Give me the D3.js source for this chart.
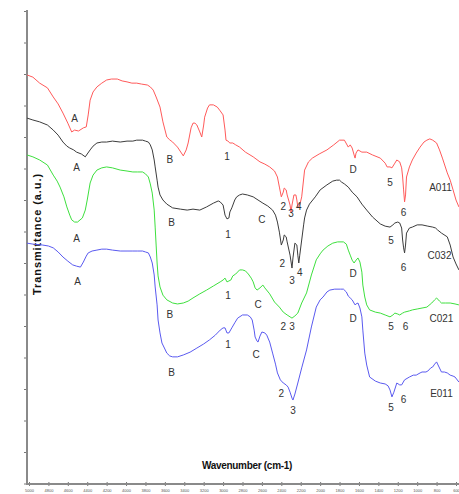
<!DOCTYPE html>
<html>
<head>
<meta charset="utf-8">
<script src="https://cdn.jsdelivr.net/npm/d3@7/dist/d3.min.js"></script>
<style>
  body { margin: 0; background: #fff; }
  svg { display: block; font-family: "Liberation Sans", Arial, sans-serif; }
  .tag { font-size: 10px; fill: #333; text-anchor: middle; dominant-baseline: central; }
  .spectrum { fill: none; stroke-width: 1; stroke-linejoin: round; }
</style>
</head>
<body>
<svg id="plot" width="459" height="494"></svg>
<script>
// wavenumber (cm-1), transmittance (a.u.)
const a011 = [
  [5020,129.7],[4960,129.0],[4890,127.1],[4810,125.6],[4750,122.7],[4700,120.5],[4650,117.6],[4600,114.4],
  [4560,111.6],[4530,112.2],[4490,111.9],[4440,112.9],[4410,113.2],[4390,117.0],[4370,121.7],[4340,124.3],
  [4300,125.9],[4250,127.1],[4200,128.1],[4150,128.4],[4090,128.4],[4040,127.8],[3990,127.5],[3940,127.1],
  [3890,127.1],[3840,126.8],[3780,126.5],[3750,125.9],[3720,124.9],[3690,122.7],[3650,119.5],[3620,114.8],
  [3580,110.0],[3550,109.1],[3520,108.4],[3470,106.8],[3410,104.0],[3380,105.9],[3360,108.1],[3330,112.9],
  [3310,114.4],[3290,114.4],[3270,113.8],[3240,111.6],[3220,110.0],[3200,113.8],[3190,116.3],[3160,119.2],
  [3140,120.2],[3100,120.2],[3060,119.5],[3030,118.3],[3000,117.0],[2980,112.2],[2970,109.0],[2950,108.7],
  [2930,108.1],[2900,108.1],[2870,107.5],[2830,106.8],[2770,105.2],[2690,103.7],[2620,102.1],[2570,101.4],
  [2520,100.5],[2470,99.2],[2440,97.3],[2420,94.1],[2400,91.0],[2380,92.5],[2370,93.8],[2350,93.2],
  [2340,91.6],[2310,88.4],[2300,86.2],[2290,88.4],[2270,91.6],[2250,91.6],[2240,90.0],[2230,87.8],
  [2210,88.4],[2190,91.0],[2160,99.5],[2120,102.1],[2080,103.3],[2010,104.6],[1930,105.9],[1860,107.5],
  [1800,109.0],[1750,109.0],[1710,106.8],[1690,107.5],[1670,106.5],[1650,104.3],[1640,103.3],[1630,104.9],
  [1610,105.9],[1570,105.2],[1520,105.2],[1460,104.3],[1380,103.3],[1330,101.7],[1310,100.5],[1280,100.5],
  [1260,100.2],[1230,101.7],[1210,102.7],[1180,102.1],[1160,100.2],[1150,97.3],[1140,93.2],[1130,89.4],
  [1120,91.6],[1110,97.3],[1080,100.5],[1050,102.7],[1010,104.9],[970,106.8],[930,108.4],[900,109.0],
  [870,109.4],[840,109.0],[800,108.1],[770,105.9],[740,103.3],[690,98.6],[660,96.3],[630,93.2],
  [600,90.0],[570,87.8]
];
const c032 = [
  [5020,116.0],[4960,115.4],[4890,114.8],[4810,113.8],[4750,112.2],[4700,110.6],[4650,108.4],[4610,107.1],
  [4580,106.5],[4540,105.9],[4510,105.2],[4460,104.6],[4420,103.7],[4400,104.6],[4370,105.9],[4340,107.1],
  [4300,108.1],[4250,108.4],[4200,108.4],[4140,108.7],[4060,108.4],[3990,108.7],[3930,108.7],[3890,109.0],
  [3830,109.0],[3800,108.7],[3770,108.4],[3750,107.5],[3730,105.9],[3710,102.7],[3700,100.5],[3680,96.3],
  [3670,94.1],[3650,91.6],[3620,90.0],[3580,88.7],[3520,87.5],[3440,87.1],[3370,86.8],[3310,87.1],
  [3240,86.8],[3170,87.8],[3100,89.0],[3050,89.7],[3030,89.4],[3000,88.4],[2980,85.2],[2960,84.0],
  [2940,84.3],[2930,86.2],[2910,87.5],[2880,90.0],[2860,91.0],[2830,91.6],[2800,91.9],[2750,91.6],
  [2690,91.0],[2640,90.0],[2590,89.0],[2540,88.1],[2490,86.8],[2460,85.2],[2440,83.0],[2420,79.8],
  [2400,75.7],[2380,77.3],[2370,78.9],[2350,78.3],[2340,76.7],[2310,72.5],[2290,68.4],[2280,71.6],
  [2260,76.3],[2240,75.7],[2230,72.5],[2220,70.0],[2210,72.5],[2190,77.3],[2170,82.1],[2160,84.3],
  [2140,86.8],[2110,88.7],[2050,91.0],[2000,93.2],[1930,94.8],[1870,96.0],[1830,96.3],[1800,96.3],
  [1780,95.7],[1750,95.1],[1710,94.1],[1670,92.5],[1620,91.0],[1570,88.7],[1520,86.8],[1460,84.6],
  [1380,82.4],[1330,81.7],[1280,81.4],[1250,82.1],[1230,82.7],[1200,83.0],[1180,82.7],[1160,81.1],
  [1150,77.3],[1140,74.8],[1130,73.2],[1120,75.7],[1110,79.5],[1080,81.1],[1050,81.4],[1000,82.1],
  [950,82.1],[890,81.7],[840,81.4],[810,81.1],[790,80.5],[750,79.5],[690,78.3],[660,75.7],
  [630,71.9],[600,69.7],[570,67.8]
];
const c021 = [
  [5020,104.3],[4960,103.7],[4890,102.7],[4810,101.1],[4750,97.9],[4710,96.0],[4680,94.1],[4640,91.0],
  [4610,87.8],[4580,85.2],[4560,83.7],[4530,83.0],[4500,83.0],[4450,84.3],[4420,86.8],[4400,90.0],
  [4370,95.4],[4340,97.9],[4300,99.5],[4250,100.2],[4200,100.5],[4140,100.2],[4060,99.5],[3990,99.2],
  [3930,98.9],[3880,98.9],[3830,98.9],[3800,98.3],[3770,97.3],[3750,95.1],[3730,92.2],[3710,86.8],
  [3700,81.4],[3690,75.7],[3680,70.0],[3670,65.9],[3650,62.4],[3620,59.8],[3580,58.3],[3520,57.3],
  [3470,57.0],[3410,57.3],[3360,57.9],[3310,58.9],[3240,60.2],[3170,61.4],[3100,62.7],[3030,64.0],
  [3000,64.6],[2980,65.2],[2960,64.0],[2940,64.3],[2920,64.6],[2900,65.9],[2870,66.5],[2830,67.8],
  [2800,67.8],[2770,67.5],[2740,66.5],[2710,65.2],[2690,64.0],[2670,62.1],[2650,61.4],[2620,62.1],
  [2590,63.0],[2570,62.1],[2520,60.2],[2470,57.6],[2420,56.0],[2380,54.4],[2340,53.5],[2310,52.9],
  [2290,52.5],[2260,53.2],[2230,54.1],[2190,57.3],[2140,60.5],[2090,66.2],[2040,71.0],[2000,72.9],
  [1970,74.1],[1920,75.4],[1870,76.3],[1820,76.7],[1760,76.7],[1730,76.0],[1710,74.1],[1690,72.5],
  [1670,70.9],[1650,70.0],[1630,70.9],[1610,71.6],[1590,70.3],[1570,67.1],[1560,63.0],[1540,59.2],
  [1520,56.7],[1490,55.1],[1430,54.4],[1380,54.1],[1330,53.5],[1280,52.9],[1250,53.5],[1230,54.1],
  [1200,53.8],[1180,53.5],[1150,54.1],[1130,54.4],[1080,54.8],[1050,55.1],[1000,55.4],[950,55.7],
  [900,56.0],[850,57.3],[820,58.3],[800,58.9],[770,57.9],[750,57.3],[710,57.3],[660,57.3],
  [610,57.0],[570,56.7]
];
const e011 = [
  [5020,76.3],[4960,76.0],[4860,75.7],[4800,75.4],[4750,74.8],[4700,73.5],[4650,71.9],[4600,70.6],
  [4550,69.4],[4510,69.0],[4470,68.7],[4440,70.3],[4410,72.2],[4390,73.2],[4350,73.8],[4300,74.1],
  [4250,74.4],[4200,74.4],[4140,74.1],[4060,73.8],[3990,73.8],[3930,73.8],[3880,73.8],[3830,73.8],
  [3800,73.5],[3770,73.2],[3750,71.9],[3730,70.0],[3710,66.2],[3700,62.4],[3680,56.7],[3670,51.9],
  [3650,47.8],[3630,44.6],[3600,42.7],[3580,41.4],[3550,40.5],[3520,40.2],[3470,40.2],[3410,40.8],
  [3340,41.7],[3270,43.0],[3200,44.3],[3140,45.6],[3080,47.1],[3030,48.7],[3000,49.4],[2980,49.4],
  [2960,47.8],[2940,47.8],[2910,49.4],[2880,51.0],[2850,52.5],[2800,53.5],[2750,53.5],[2720,52.9],
  [2700,51.9],[2680,48.7],[2670,46.5],[2650,45.2],[2640,44.9],[2620,46.8],[2600,48.1],[2570,47.8],
  [2550,47.1],[2520,44.9],[2490,41.4],[2460,37.9],[2440,35.1],[2410,32.9],[2380,31.9],[2350,31.3],
  [2330,30.6],[2310,29.0],[2290,27.1],[2280,26.5],[2260,28.4],[2230,31.9],[2190,36.7],[2140,42.4],
  [2090,49.7],[2040,56.0],[2000,58.3],[1970,59.2],[1930,60.8],[1900,61.4],[1850,61.7],[1790,61.7],
  [1760,61.7],[1730,60.8],[1710,59.5],[1690,58.9],[1670,58.3],[1640,56.7],[1630,57.0],[1610,57.3],
  [1590,55.7],[1570,52.9],[1560,48.7],[1540,41.4],[1520,37.6],[1490,33.8],[1430,32.5],[1380,31.9],
  [1330,31.6],[1300,31.0],[1280,29.7],[1260,27.5],[1240,29.0],[1210,31.9],[1180,31.3],[1160,31.3],
  [1130,32.9],[1080,33.8],[1040,34.4],[1010,34.4],[970,35.1],[950,35.4],[910,35.4],[890,35.7],
  [860,36.7],[840,37.0],[820,37.9],[800,38.6],[780,37.3],[750,35.4],[720,35.4],[690,35.1],
  [660,34.4],[630,34.1],[610,33.8],[570,32.2]
];

// band labels: text, wavenumber, transmittance
const a011Labels = [["A",4530,116.0],["B",3550,102.7],["1",2960,103.7],["2",2380,87.8],["3",2300,85.6],
  ["4",2220,87.8],["D",1660,99.8],["5",1280,95.7],["6",1140,85.9],["A011",760,94.1]];
const c032Labels = [["A",4510,100.2],["B",3530,82.7],["1",2950,78.9],["C",2600,83.7],["2",2390,70.0],
  ["3",2290,64.6],["4",2210,67.1],["5",1270,77.3],["6",1140,68.7],["C032",770,72.5]];
const c021Labels = [["A",4510,77.9],["B",3550,53.5],["1",2950,59.8],["C",2640,56.7],["2",2380,50.0],
  ["3",2290,50.0],["D",1660,66.8],["5",1270,49.7],["6",1120,50.0],["C021",750,52.5]];
const e011Labels = [["A",4500,64.0],["B",3530,35.1],["1",2950,44.0],["C",2660,40.8],["2",2400,28.7],
  ["3",2280,23.3],["D",1660,52.5],["5",1270,24.0],["6",1140,26.8],["E011",750,28.7]];

const xTicks = d3.range(5000, 599, -200);
const yTicks = d3.range(0, 151, 10);

const series = [
  {data: a011, labels: a011Labels, color: "#ff5a5a"},
  {data: c032, labels: c032Labels, color: "#3c3c3c"},
  {data: c021, labels: c021Labels, color: "#3ee03e"},
  {data: e011, labels: e011Labels, color: "#5a5af0"}
];

const svg = d3.select("#plot");

const xScale = d3.scaleLinear().domain([5000, 600]).range([29, 456]);
const yScale = d3.scaleLinear().domain([0, 150]).range([483.5, 11]);

// axes
const xAxis = svg.append("g")
    .attr("transform", "translate(0,484)")
    .call(d3.axisBottom(xScale).tickValues(xTicks).tickSizeOuter(0).tickFormat(d3.format("d")));
xAxis.select(".domain").remove();
xAxis.selectAll(".tick line").attr("y1", -2).attr("y2", 2).attr("stroke", "#777");
xAxis.selectAll(".tick text")
    .attr("y", 5)
    .attr("dy", "0.71em")
    .attr("font-size", 4)
    .attr("font-family", "Liberation Sans, Arial, sans-serif")
    .attr("fill", "#555");

const yAxis = svg.append("g")
    .attr("transform", "translate(27,0)")
    .call(d3.axisLeft(yScale).tickValues(yTicks).tickSize(3).tickSizeOuter(0).tickFormat(""));
yAxis.select(".domain").remove();
yAxis.selectAll(".tick line").attr("stroke", "#777");

svg.append("line")
    .attr("x1", 27).attr("x2", 27).attr("y1", 10).attr("y2", 485)
    .attr("stroke", "#8a8a8a").attr("stroke-width", 2);
svg.append("line")
    .attr("x1", 26).attr("x2", 459).attr("y1", 484).attr("y2", 484)
    .attr("stroke", "#8a8a8a").attr("stroke-width", 2);

// axis titles
svg.append("text")
    .attr("transform", "translate(40.5,234) rotate(-90)")
    .attr("text-anchor", "middle")
    .attr("font-size", 11)
    .attr("font-weight", "bold")
    .attr("letter-spacing", 0.9)
    .attr("fill", "#111")
    .text("Transmittance (a.u.)");

svg.append("text")
    .attr("x", 247).attr("y", 469)
    .attr("text-anchor", "middle")
    .attr("font-size", 10)
    .attr("font-weight", "bold")
    .attr("letter-spacing", -0.3)
    .attr("fill", "#111")
    .text("Wavenumber (cm-1)");

// spectra
const line = d3.line()
    .x(d => xScale(d[0]))
    .y(d => yScale(d[1]));

series.forEach(s => {
    svg.append("path")
        .datum(s.data)
        .attr("class", "spectrum")
        .attr("stroke", s.color)
        .attr("d", line);

    svg.append("g")
        .selectAll("text")
        .data(s.labels)
        .join("text")
        .attr("class", "tag")
        .attr("x", d => xScale(d[1]))
        .attr("y", d => yScale(d[2]))
        .text(d => d[0]);
});
</script>
</body>
</html>
